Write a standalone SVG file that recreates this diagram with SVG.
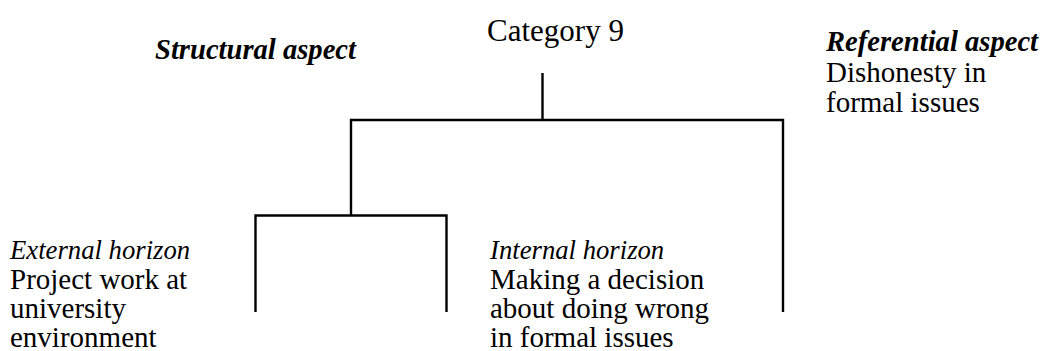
<svg xmlns="http://www.w3.org/2000/svg" width="1045" height="351" viewBox="0 0 1045 351">
  <style>
    text { font-family: "Liberation Serif", "Times New Roman", serif; fill: #000; }
    .title { font-size: 31px; }
    .head { font-size: 28.6px; font-weight: bold; font-style: italic; }
    .sub { font-size: 26.7px; font-style: italic; }
    .body { font-size: 29px; }
    .link { fill: none; stroke: #000; stroke-width: 2.4; stroke-linecap: butt; stroke-linejoin: miter; }
  </style>
  <rect width="1045" height="351" fill="#fff"/>

  <!-- tree connectors -->
  <g id="connectors">
    <path class="link" d="M542.5 73 V120"/>
    <path class="link" d="M351 215.5 V120 H783 V312"/>
    <path class="link" d="M255.5 312 V215.5 H446.5 V312"/>
  </g>

  <g id="category">
    <text class="title" x="487" y="41">Category 9</text>
  </g>

  <g id="structural-aspect">
    <text class="head" x="155" y="59">Structural aspect</text>
  </g>

  <g id="referential-aspect">
    <text class="head" x="826" y="50.5">Referential aspect</text>
    <text class="body" x="826" y="81.5">Dishonesty in</text>
    <text class="body" x="826" y="112">formal issues</text>
  </g>

  <g id="external-horizon">
    <text class="sub" x="10" y="259">External horizon</text>
    <text class="body" x="10" y="288.5">Project work at</text>
    <text class="body" x="10" y="318">university</text>
    <text class="body" x="10" y="347">environment</text>
  </g>

  <g id="internal-horizon">
    <text class="sub" x="490" y="259">Internal horizon</text>
    <text class="body" x="490" y="288.5">Making a decision</text>
    <text class="body" x="490" y="318">about doing wrong</text>
    <text class="body" x="490" y="347">in formal issues</text>
  </g>
</svg>
